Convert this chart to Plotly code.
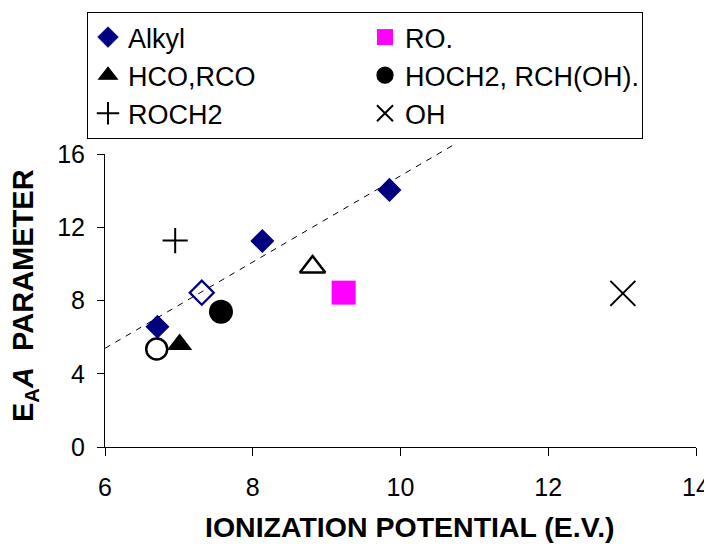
import plotly.graph_objects as go

# ---- data ----
alkyl_x = [6.71, 8.13, 9.85, 7.31]
alkyl_y = [6.57, 11.25, 14.04, 8.43]
alkyl_filled = [True, True, True, False]

ro_x = [9.23]
ro_y = [8.43]

hco_x = [7.01, 8.81]
hco_y = [5.6, 9.83]
hco_filled = [True, False]

hoch2_x = [7.57, 6.70]
hoch2_y = [7.39, 5.35]
hoch2_filled = [True, False]

roch2_x = [6.95]
roch2_y = [11.27]

oh_x = [13.01]
oh_y = [8.39]

trend_x = [6.0, 10.77]
trend_y = [5.39, 16.62]

x_ticks = [6, 8, 10, 12, 14]
y_ticks = [0, 4, 8, 12, 16]

FONT = "Arial, Liberation Sans, sans-serif"
NAVY = "#000080"

# layout geometry (pixels, figure coordinates)
W, H = 704, 538
ML, MR, MT, MB = 97, 16, 132, 99
PLOT_TOP = 146            # where y=16 sits
Y_MAX = 16
inner_w = W - ML - MR
inner_h = H - MT - MB
y_dom_top = (H - MB - PLOT_TOP) / inner_h
y2_max = Y_MAX / y_dom_top

fig = go.Figure()


def sym(base, filled):
    return [base if f else base + "-open" for f in filled]


fig.add_trace(go.Scatter(
    x=trend_x, y=trend_y, mode="lines", showlegend=False, yaxis="y2",
    line=dict(color="black", width=1, dash="6px,6px"), hoverinfo="skip"))

fig.add_trace(go.Scatter(
    x=alkyl_x, y=alkyl_y, mode="markers", name="Alkyl",
    marker=dict(symbol=sym("diamond", alkyl_filled), size=18.5, color=NAVY, opacity=1,
                line=dict(color=NAVY, width=[0 if f else 2.2 for f in alkyl_filled]))))

fig.add_trace(go.Scatter(
    x=ro_x, y=ro_y, mode="markers", name="RO.",
    marker=dict(symbol="square", size=24, color="#FF00FF", opacity=1, line=dict(width=0))))

fig.add_trace(go.Scatter(
    x=hco_x, y=hco_y, mode="markers", name="HCO,RCO",
    marker=dict(symbol=sym("triangle-up", hco_filled), size=22, color="black", opacity=1,
                line=dict(color="black", width=[0 if f else 2.5 for f in hco_filled]))))

fig.add_trace(go.Scatter(
    x=hoch2_x, y=hoch2_y, mode="markers", name="HOCH2, RCH(OH).",
    marker=dict(symbol=sym("circle", hoch2_filled), size=[24 if f else 21 for f in hoch2_filled],
                color="black", opacity=1,
                line=dict(color="black", width=[0 if f else 2.5 for f in hoch2_filled]))))

fig.add_trace(go.Scatter(
    x=roch2_x, y=roch2_y, mode="markers", name="ROCH2",
    marker=dict(symbol="cross-thin", size=18, color="black", opacity=1,
                line=dict(color="black", width=2))))

fig.add_trace(go.Scatter(
    x=oh_x, y=oh_y, mode="markers", name="OH",
    marker=dict(symbol="x-thin", size=25, color="black", opacity=1,
                line=dict(color="black", width=2))))

# axis titles (positioned like the reference)
fig.add_annotation(
    text="<b>E<sub>A</sub><i>A</i>  PARAMETER</b>",
    xref="paper", yref="paper",
    x=(17 - ML) / inner_w, y=(H - MB - 288) / inner_h,
    xanchor="center", yanchor="middle", textangle=-90, showarrow=False,
    font=dict(size=29, family=FONT, color="black"),
)
fig.add_annotation(
    text="<b>IONIZATION POTENTIAL (E.V.)</b>",
    xref="paper", yref="paper",
    x=(402 - ML) / inner_w, y=(H - MB - 519) / inner_h,
    xanchor="center", yanchor="middle", showarrow=False,
    font=dict(size=28.5, family=FONT, color="black"),
)

fig.update_layout(
    width=W, height=H,
    margin=dict(l=ML, r=MR, t=MT, b=MB, autoexpand=False),
    paper_bgcolor="white", plot_bgcolor="rgba(0,0,0,0)",
    font=dict(family=FONT, color="black", size=25),
    legend=dict(
        orientation="h", xref="paper", yref="paper",
        x=(79 - ML) / inner_w, y=1 + (MT - 4) / inner_h,
        xanchor="left", yanchor="top",
        bordercolor="black", borderwidth=1,
        font=dict(family=FONT, size=27, color="black"),
        entrywidth=232, entrywidthmode="pixels",
        itemsizing="trace",
        bgcolor="white",
    ),
    xaxis=dict(
        range=[6, 14], tickvals=x_ticks, ticktext=[str(v) for v in x_ticks],
        showgrid=False, zeroline=False, showline=True, linecolor="black", linewidth=1,
        ticks="outside", ticklen=8, tickcolor="black", automargin=False,
        ticklabelstandoff=10,
        tickfont=dict(size=25, family=FONT), anchor="y",
    ),
    yaxis=dict(
        range=[0, Y_MAX], domain=[0, y_dom_top], tickvals=y_ticks,
        ticktext=[str(v) for v in y_ticks],
        showgrid=False, zeroline=False, showline=True, linecolor="black", linewidth=1,
        ticks="outside", ticklen=7, tickcolor="black", automargin=False,
        ticklabelstandoff=7,
        tickfont=dict(size=25, family=FONT),
    ),
    yaxis2=dict(
        range=[0, y2_max], domain=[0, 1], anchor="x", visible=False,
        showgrid=False, zeroline=False, automargin=False,
    ),
)

fig.write_html("out.html")
